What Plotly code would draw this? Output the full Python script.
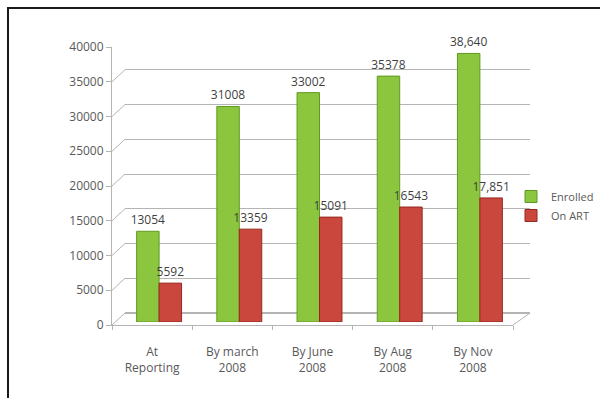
import plotly.graph_objects as go

categories = ["At<br>Reporting", "By march<br>2008", "By June<br>2008", "By Aug<br>2008", "By Nov<br>2008"]
enrolled = [13054, 31008, 33002, 35378, 38640]
on_art = [5592, 13359, 15091, 16543, 17851]
enrolled_labels = ["13054", "31008", "33002", "35378", "38,640"]
on_art_labels = ["5592", "13359", "15091", "16543", "17,851"]
y_ticks = [0, 5000, 10000, 15000, 20000, 25000, 30000, 35000, 40000]

W, H = 600, 398
def px(x):
    return x / W
def py(y):
    return 1 - y / H

GREEN = "#8CC63E"
GREEN_EDGE = "#5E9A22"
RED = "#C9473C"
RED_EDGE = "#97281F"
GRID = "#B4B4B4"
TXT = "#595959"
FONT = "Open Sans"

fig = go.Figure()

# back wall (gridlines) subplot x/y
fig.add_trace(go.Scatter(x=categories, y=enrolled, xaxis="x", yaxis="y", mode="markers",
                         marker=dict(opacity=0), showlegend=False, hoverinfo="skip"))
# front axis subplot x2/y2
fig.add_trace(go.Scatter(x=categories, y=enrolled, xaxis="x2", yaxis="y2", mode="markers",
                         marker=dict(opacity=0), showlegend=False, hoverinfo="skip"))
# bars subplot x3/y3
fig.add_trace(go.Bar(name="Enrolled", x=categories, y=enrolled, xaxis="x3", yaxis="y3",
                     marker=dict(color=GREEN, line=dict(color=GREEN_EDGE, width=1)),
                     text=enrolled_labels, textposition="outside", cliponaxis=False,
                     constraintext="none",
                     textfont=dict(color="#3F3F3F", size=12, family=FONT)))
fig.add_trace(go.Bar(name="On ART", x=categories, y=on_art, xaxis="x3", yaxis="y3",
                     marker=dict(color=RED, line=dict(color=RED_EDGE, width=1)),
                     text=on_art_labels, textposition="outside", cliponaxis=False,
                     constraintext="none",
                     textfont=dict(color="#3F3F3F", size=12, family=FONT)))

front_x = [px(112), px(513)]
front_y = [py(325), py(47)]
back_x = [px(125), px(530)]
back_y = [py(313), py(35)]
bar_x = [px(119), px(520)]
bar_y = [py(322), py(44)]

hidden = dict(showticklabels=False, showgrid=False, zeroline=False, showline=False, ticks="")

shapes = []
# slanted connectors from front axis ticks to back wall
for v in y_ticks:
    shapes.append(dict(type="line", xref="paper", yref="y2",
                       xsizemode="pixel", xanchor=front_x[0], x0=0, x1=13,
                       ysizemode="pixel", yanchor=v, y0=0, y1=12,
                       line=dict(color=GRID, width=1), layer="below"))
# floor right edge
shapes.append(dict(type="line", xref="paper", yref="paper",
                   x0=front_x[1], y0=front_y[0], x1=back_x[1], y1=back_y[0],
                   line=dict(color=GRID, width=1), layer="below"))
# outer border
shapes.append(dict(type="rect", xref="paper", yref="paper",
                   x0=px(8), y0=py(8), x1=1.2, y1=-0.2,
                   line=dict(color="#1a1a1a", width=2)))

fig.update_layout(
    width=W, height=H,
    margin=dict(l=0, r=0, t=0, b=0, autoexpand=False),
    paper_bgcolor="white", plot_bgcolor="rgba(0,0,0,0)",
    font=dict(family=FONT, color=TXT, size=12),
    barmode="group", bargap=0.44, bargroupgap=0,
    showlegend=True,
    legend=dict(x=px(511), y=py(182), xanchor="left", yanchor="top",
                font=dict(size=11, color=TXT, family=FONT), bgcolor="rgba(0,0,0,0)",
                tracegroupgap=4, itemwidth=30),
    xaxis=dict(domain=back_x, anchor="y", range=[-0.5, 4.5], **hidden),
    yaxis=dict(domain=back_y, anchor="x", range=[0, 40000], showticklabels=False,
               showgrid=True, gridcolor=GRID, gridwidth=1, dtick=5000, zeroline=True,
               zerolinecolor=GRID, showline=False, ticks=""),
    xaxis2=dict(domain=front_x, anchor="y2", range=[-0.5, 4.5], showgrid=False,
                showline=True, linecolor=GRID, linewidth=1, ticks="outside",
                tickson="boundaries", ticklen=4, tickcolor=GRID,
                tickfont=dict(size=12, color=TXT, family=FONT), ticklabelstandoff=16,
                automargin=False, zeroline=False),
    yaxis2=dict(domain=front_y, anchor="x2", range=[0, 40000], tickvals=y_ticks,
                ticktext=[str(v) for v in y_ticks], showgrid=False, showline=True,
                linecolor=GRID, linewidth=1, ticks="outside", ticklen=5, tickcolor=GRID,
                tickfont=dict(size=12, color=TXT, family=FONT), zeroline=False,
                automargin=False),
    xaxis3=dict(domain=bar_x, anchor="y3", range=[-0.5, 4.5], **hidden),
    yaxis3=dict(domain=bar_y, anchor="x3", range=[0, 40000], **hidden),
    shapes=shapes,
)

fig.write_html("out.html")
